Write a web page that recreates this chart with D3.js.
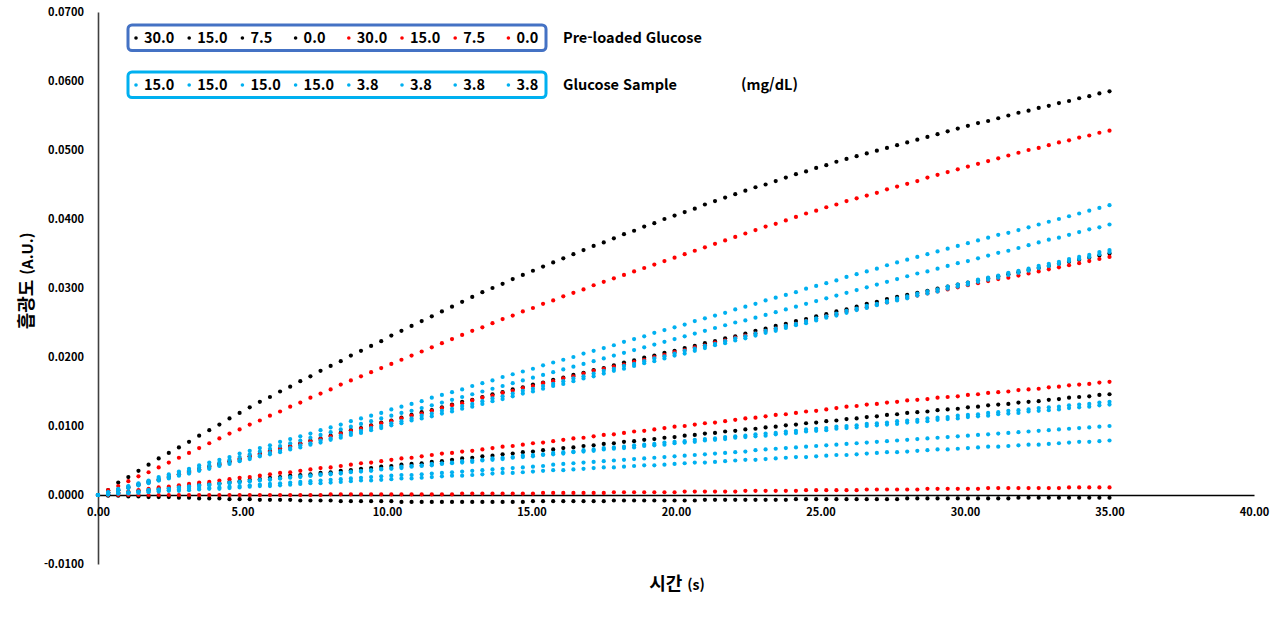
<!DOCTYPE html>
<html lang="ko">
<head>
<meta charset="UTF-8">
<title>흡광도 vs 시간</title>
<script src="https://cdn.jsdelivr.net/npm/d3@7"></script>
<style>
  body { margin:0; background:#fff; font-family:'Noto Sans CJK KR', 'Noto Sans', sans-serif; }
  svg text { font-family:'Noto Sans CJK KR', 'Noto Sans', sans-serif; font-weight:700; fill:#000; }
  .axis .tick text { font-size:11px; }
  .legend text { font-size:14.5px; }
</style>
</head>
<body>
<svg id="chart" width="1280" height="640"></svg>
<script>
// sampling interval of the reader (s)
const timeStep = 0.35

// absorbance readings, in units of 1e-4 A.U.
// pre-loaded glucose, black series: 30.0, 15.0, 7.5, 0.0
const black30 = [0,7,18,26,35,44,53,61,69,77, 86,94,102,111,119,127,135,142,150,157, 165,172,180,187,194,202,209,216,223,231, 238,245,252,259,266,273,280,287,294,300, 306,313,319,325,331,337,343,349,355,361, 366,372,378,383,389,394,400,405,410,415, 421,426,431,436,441,446,450,455,460,465, 469,474,478,483,487,491,495,499,503,507, 511,515,519,523,527,531,535,539,542,546, 550,554,557,561,564,568,571,575,578,582, 585]
const black15 = [0,4,7,11,15,19,22,26,30,34, 37,41,45,49,52,56,60,64,67,71, 75,79,82,86,90,94,97,101,105,108, 112,116,120,123,127,131,135,138,142,146, 149,153,156,160,163,167,170,174,177,181, 184,188,192,195,199,202,206,209,213,216, 220,223,227,230,234,238,241,245,248,252, 255,259,262,266,269,273,277,280,284,287, 290,293,296,299,302,305,308,311,314,317, 320,323,326,329,332,335,338,341,344,347, 350]
const black75 = [0,1,3,4,6,7,9,10,12,13, 15,16,17,19,20,22,23,25,26,28, 29,30,32,33,35,36,38,39,41,42, 44,45,46,48,49,51,53,54,56,57, 59,60,62,63,65,66,68,69,71,72, 74,75,77,78,80,81,83,84,86,87, 89,90,92,93,95,96,98,99,101,102, 104,105,107,108,110,111,113,114,116,117, 119,120,121,123,124,125,127,128,130,131, 132,134,135,136,138,139,141,142,143,145, 146]
const black0 = [0,-1,-1,-2,-2,-3,-3,-3,-4,-4, -5,-5,-5,-6,-6,-6,-7,-7,-7,-7, -8,-8,-8,-8,-9,-9,-9,-9,-9,-9, -10,-10,-10,-10,-10,-10,-10,-10,-10,-10, -10,-10,-10,-9,-9,-9,-9,-9,-9,-9, -9,-8,-8,-8,-8,-8,-8,-8,-8,-8, -7,-7,-7,-7,-7,-7,-7,-7,-7,-6, -6,-6,-6,-6,-6,-6,-6,-6,-6,-6, -5,-5,-5,-5,-5,-5,-5,-5,-5,-5, -5,-4,-4,-4,-4,-4,-4,-4,-4,-4, -4]

// pre-loaded glucose, red series: 30.0, 15.0, 7.5, 0.0
const red30 = [0,7,13,20,27,33,40,47,54,61, 68,75,82,89,95,102,108,115,121,128, 134,141,147,153,160,166,172,178,184,190, 196,202,208,214,220,226,232,238,243,249, 255,260,266,271,277,282,288,293,298,304, 309,314,319,324,329,334,339,344,349,354, 359,364,369,374,379,384,389,393,398,403, 408,412,417,421,426,430,434,438,443,447, 451,455,460,464,468,472,476,480,484,488, 492,496,500,503,507,511,514,518,521,525, 528]
const red15 = [0,4,7,11,15,19,22,26,30,33, 37,41,44,48,52,56,59,63,67,70, 74,78,81,85,89,93,96,100,104,107, 111,115,118,122,126,130,133,137,141,144, 148,151,155,158,162,165,169,172,176,180, 183,186,189,193,196,200,203,207,210,214, 217,221,224,228,231,234,238,241,245,248, 252,255,259,262,266,269,272,276,279,283, 286,289,292,295,298,301,304,307,310,313, 315,318,321,324,327,330,333,336,339,342, 345]
const red75 = [0,2,4,5,7,9,11,12,14,16, 18,19,21,23,25,26,28,30,32,33, 35,37,39,40,42,44,46,47,49,51, 53,54,56,58,60,61,63,64,66,68, 70,71,73,75,76,78,80,82,83,85, 87,88,90,92,93,95,97,99,100,102, 104,105,107,109,111,112,114,116,117,119, 121,122,124,126,128,129,131,132,134,135, 137,138,139,141,142,143,145,146,148,149, 150,152,153,154,156,157,159,160,161,163, 164]
const red0 = [0,0,0,0,0,0,0,0,0,0, 0,0,0,0,0,0,0,0,0,0, 0,0,0,1,1,1,1,1,1,1, 1,1,1,1,1,1,2,2,2,2, 2,2,2,2,3,3,3,3,3,3, 3,4,4,4,4,4,4,4,5,5, 5,5,5,5,6,6,6,6,6,6, 7,7,7,7,7,7,8,8,8,8, 8,8,9,9,9,9,9,9,10,10, 10,10,10,10,10,10,11,11,11,11, 11]

// glucose sample, blue series: 15.0 x4, 3.8 x4
const sample15a = [0,4,9,13,17,21,26,30,34,38, 43,47,51,55,60,64,68,72,77,81, 85,89,94,98,102,107,111,115,119,124, 128,132,136,141,145,149,153,158,162,166, 171,175,179,183,188,192,196,200,205,209, 213,217,222,226,230,235,239,243,247,252, 256,260,264,269,273,277,282,286,290,294, 299,303,307,311,316,320,324,328,333,337, 341,345,349,353,357,361,365,369,373,377, 380,384,388,392,396,400,404,408,412,416, 420]
const sample15b = [0,4,8,12,16,20,24,28,32,36, 40,43,47,51,55,59,63,67,71,75, 79,83,87,91,95,99,103,107,111,115, 119,122,126,130,134,138,142,146,150,154, 158,162,166,170,174,178,182,186,190,194, 198,202,206,210,214,218,222,226,230,234, 238,242,246,250,253,257,261,265,269,273, 277,281,285,289,293,297,301,305,309,313, 317,321,324,328,332,336,339,343,347,351, 354,358,362,366,370,373,377,381,385,388, 392]
const sample15c = [0,4,7,11,14,18,21,25,29,32, 36,39,43,47,50,54,57,61,64,68, 72,75,79,82,86,90,93,97,100,104, 107,111,115,118,122,125,129,132,136,140, 143,147,151,154,158,161,165,169,172,176, 180,183,187,190,194,198,201,205,209,212, 216,219,223,227,230,234,238,241,245,248, 252,256,259,263,267,270,274,277,281,285, 288,292,295,298,302,305,308,312,315,318, 322,325,328,332,335,338,342,345,348,352, 355]
const sample15d = [0,3,7,10,14,17,21,24,28,31, 35,38,42,45,49,52,56,59,62,66, 69,73,76,80,83,87,90,94,97,101, 104,108,111,114,118,121,125,128,132,136, 139,143,147,150,154,158,161,165,169,172, 176,180,183,187,191,194,198,202,205,209, 213,217,220,224,227,231,235,238,242,246, 249,253,257,260,264,268,271,275,279,282, 285,289,292,295,299,302,305,309,312,315, 319,322,325,329,332,335,339,342,345,349, 352]
const sample38a = [0,1,3,4,5,7,8,9,11,12, 14,15,16,18,19,20,22,23,24,26, 27,28,30,31,32,34,35,36,38,39, 41,42,43,45,46,47,49,50,51,53, 54,55,57,58,59,61,62,63,65,66, 68,69,70,72,73,74,76,77,78,80, 81,82,84,85,86,88,89,90,92,93, 95,96,97,99,100,101,103,104,105,107, 108,109,111,112,113,115,116,117,119,120, 122,123,124,126,127,128,130,131,132,134, 135]
const sample38b = [0,1,3,4,5,7,8,9,10,12, 13,14,16,17,18,20,21,22,24,25, 26,28,29,30,31,33,34,35,37,38, 39,41,42,43,45,46,47,48,50,51, 52,54,55,56,58,59,60,62,63,64, 66,67,68,69,71,72,73,75,76,77, 79,80,81,83,84,85,86,88,89,90, 92,93,94,96,97,98,100,101,102,103, 105,106,107,109,110,111,113,114,115,117, 118,119,121,122,123,124,126,127,128,130, 131]
const sample38c = [0,1,2,3,4,5,6,7,8,9, 10,10,11,12,13,14,15,16,17,18, 19,20,21,22,23,24,25,26,27,28, 29,29,30,31,32,33,34,35,36,37, 38,39,40,41,42,44,45,46,47,48, 49,50,51,52,53,54,55,56,57,58, 59,60,61,62,63,65,66,67,68,69, 70,71,72,73,74,75,76,77,78,79, 80,81,82,83,84,85,86,87,88,89, 90,91,92,93,94,95,96,97,98,99, 100]
const sample38d = [0,1,2,2,3,4,5,6,6,7, 8,9,9,10,11,12,13,13,14,15, 16,17,17,18,19,20,21,21,22,23, 24,24,25,26,27,28,28,29,30,31, 32,32,33,34,35,36,36,37,38,39, 40,40,41,42,43,43,44,45,46,47, 47,48,49,50,51,51,52,53,54,55, 55,56,57,58,58,59,60,61,62,62, 63,64,65,66,66,67,68,69,70,70, 71,72,73,73,74,75,76,77,77,78, 79]

// legend labels (mg/dL)
const preloadedLabels = ["30.0","15.0","7.5","0.0","30.0","15.0","7.5","0.0"]
const preloadedColors = ["#000000","#000000","#000000","#000000","#FF0000","#FF0000","#FF0000","#FF0000"]
const sampleLabels = ["15.0","15.0","15.0","15.0","3.8","3.8","3.8","3.8"]

// axis ticks
const xTicks = [0,5,10,15,20,25,30,35,40]
const yTicks = [-0.01,0,0.01,0.02,0.03,0.04,0.05,0.06,0.07]

const black = "#000000", red = "#FF0000", blue = "#00B0F0"
let series = [
    {color: black, values: black30},
    {color: black, values: black15},
    {color: black, values: black75},
    {color: black, values: black0},
    {color: red, values: red30},
    {color: red, values: red15},
    {color: red, values: red75},
    {color: red, values: red0},
    {color: blue, values: sample15a},
    {color: blue, values: sample15b},
    {color: blue, values: sample15c},
    {color: blue, values: sample15d},
    {color: blue, values: sample38a},
    {color: blue, values: sample38b},
    {color: blue, values: sample38c},
    {color: blue, values: sample38d}
]

let svg = d3.select("#chart")

let x = d3.scaleLinear().domain([0, 40]).range([98, 1254])
let y = d3.scaleLinear().domain([-0.01, 0.07]).range([564, 12])

// y axis
let yAxis = d3.axisLeft(y)
    .tickValues(yTicks)
    .tickSize(0)
    .tickPadding(14)
    .tickFormat(d => d.toFixed(4))
svg.append("g")
    .attr("class", "axis")
    .attr("transform", "translate(98,0)")
    .call(yAxis)
    .call(g => g.select(".domain").attr("stroke", "#404040").attr("stroke-width", 1.6))

// x axis, crossing at zero
let xAxis = d3.axisBottom(x)
    .tickValues(xTicks)
    .tickSize(0)
    .tickPadding(13)
    .tickFormat(d => d.toFixed(2))
svg.append("g")
    .attr("class", "axis")
    .attr("transform", `translate(0,${y(0)})`)
    .call(xAxis)
    .call(g => g.select(".domain").attr("stroke", "#000").attr("stroke-width", 1.4))

// dots
let plot = svg.append("g")
series.forEach(s => {
    plot.append("g")
        .attr("fill", s.color)
        .selectAll("circle")
        .data(s.values)
        .join("circle")
        .attr("cx", (d, i) => x(i * timeStep))
        .attr("cy", d => y(d / 10000))
        .attr("r", 2.1)
})

// axis titles
svg.append("text")
    .attr("transform", "translate(33,281) rotate(-90)")
    .attr("text-anchor", "middle")
    .call(t => {
        t.append("tspan").attr("font-size", 18).text("흡광도 ")
        t.append("tspan").attr("font-size", 15).text("(A.U.)")
    })
svg.append("text")
    .attr("x", 677)
    .attr("y", 590)
    .attr("text-anchor", "middle")
    .call(t => {
        t.append("tspan").attr("font-size", 18).text("시간 ")
        t.append("tspan").attr("font-size", 14).text("(s)")
    })

// legend boxes
let legend = svg.append("g").attr("class", "legend")
let rows = [
    {top: 25, border: "#4472C4", labels: preloadedLabels, colors: preloadedColors, title: "Pre-loaded Glucose"},
    {top: 72, border: "#00B0F0", labels: sampleLabels, colors: sampleLabels.map(() => blue), title: "Glucose Sample"}
]
rows.forEach(r => {
    legend.append("rect")
        .attr("x", 128).attr("y", r.top)
        .attr("width", 418).attr("height", 25.5)
        .attr("rx", 4)
        .attr("fill", "none")
        .attr("stroke", r.border)
        .attr("stroke-width", 3)
    let cy = r.top + 13
    let item = legend.selectAll(null)
        .data(r.labels)
        .join("g")
        .attr("transform", (d, i) => `translate(${136 + i * 53.2},${cy})`)
    item.append("circle")
        .attr("r", 1.8)
        .attr("fill", (d, i) => r.colors[i])
    item.append("text")
        .attr("x", 8)
        .attr("dy", "0.35em")
        .text(d => d)
    legend.append("text")
        .attr("x", 563).attr("y", cy)
        .attr("dy", "0.35em")
        .attr("font-size", 16)
        .text(r.title)
})
legend.append("text")
    .attr("x", 741).attr("y", 85)
    .attr("dy", "0.35em")
    .attr("font-size", 16)
    .text("(mg/dL)")
</script>
</body>
</html>
